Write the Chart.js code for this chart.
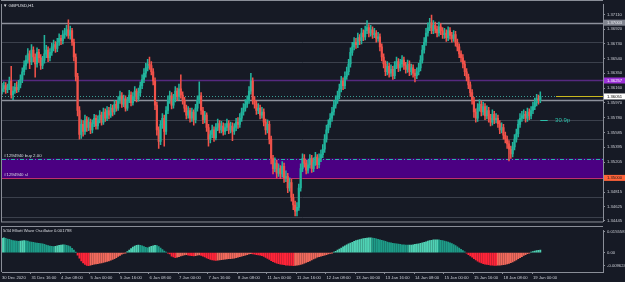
<!DOCTYPE html>
<html><head><meta charset="utf-8">
<script src="https://cdn.jsdelivr.net/npm/chart.js@4.4.1/dist/chart.umd.min.js"></script>
<style>
html,body{margin:0;padding:0;background:#161a25;width:625px;height:282px;overflow:hidden}
canvas{position:absolute;left:0}
#main{top:0}
#osc{top:226px}
</style></head><body>
<canvas id="main" width="625" height="226"></canvas>
<canvas id="osc" width="625" height="56"></canvas>
<script>
// ---------- DATA ----------
const SYMBOL_TITLE = '\u25BC GBPUSD,H1';
const OSC_TITLE = '5/34 Elliott Wave Oscillator 0.001798';
const TIME_TICKS = ['30 Dec 2020','31 Dec 16:00','4 Jan 08:00','5 Jan 00:00','5 Jan 16:00','6 Jan 08:00','7 Jan 00:00','7 Jan 16:00','8 Jan 08:00','11 Jan 00:00','11 Jan 16:00','12 Jan 08:00','13 Jan 00:00','13 Jan 16:00','14 Jan 08:00','15 Jan 00:00','15 Jan 16:00','18 Jan 08:00','19 Jan 00:00'];
const TICK_EVERY = 16;      // bars between time labels
const SLOTS = 327;          // bar slots across the chart (incl. empty right shift)
const PRICE_TICKS = [1.37110,1.36920,1.36730,1.36540,1.36350,1.36160,1.35970,1.35780,1.35585,1.35395,1.35205,1.34815,1.34625,1.34445];
const OSC_TICKS = [0.015558,0,-0.009624];

const OPEN = [
1.3612,1.3615,1.3619,1.3614,1.3617,1.3625,1.3607,1.3612,1.3617,1.3614,
1.3620,1.3627,1.3637,1.3645,1.3652,1.3660,1.3650,1.3665,1.3656,1.3647,
1.3662,1.3655,1.3645,1.3652,1.3660,1.3665,1.3655,1.3662,1.3669,1.3672,
1.3667,1.3675,1.3680,1.3677,1.3685,1.3687,1.3691,1.3684,1.3690,1.3675,
1.3656,1.3631,1.3587,1.3556,1.3569,1.3560,1.3575,1.3565,1.3572,1.3562,
1.3570,1.3577,1.3567,1.3575,1.3581,1.3572,1.3585,1.3577,1.3587,1.3581,
1.3590,1.3585,1.3595,1.3590,1.3600,1.3606,1.3595,1.3602,1.3590,1.3600,
1.3607,1.3597,1.3605,1.3612,1.3602,1.3610,1.3619,1.3627,1.3635,1.3642,
1.3647,1.3645,1.3637,1.3625,1.3594,1.3562,1.3547,1.3569,1.3577,1.3560,
1.3587,1.3600,1.3606,1.3594,1.3602,1.3612,1.3605,1.3615,1.3607,1.3600,
1.3590,1.3581,1.3587,1.3577,1.3585,1.3575,1.3590,1.3600,1.3606,1.3587,
1.3575,1.3581,1.3565,1.3550,1.3556,1.3562,1.3552,1.3565,1.3570,1.3562,
1.3567,1.3560,1.3565,1.3570,1.3562,1.3567,1.3560,1.3565,1.3572,1.3569,
1.3577,1.3585,1.3590,1.3595,1.3600,1.3612,1.3625,1.3600,1.3595,1.3587,
1.3590,1.3581,1.3585,1.3572,1.3562,1.3569,1.3550,1.3525,1.3512,1.3519,
1.3506,1.3512,1.3505,1.3515,1.3500,1.3502,1.3487,1.3494,1.3475,1.3465,
1.3457,1.3462,1.3487,1.3512,1.3525,1.3519,1.3510,1.3517,1.3525,1.3512,
1.3520,1.3527,1.3517,1.3525,1.3530,1.3537,1.3550,1.3562,1.3569,1.3577,
1.3585,1.3594,1.3600,1.3606,1.3615,1.3625,1.3619,1.3631,1.3637,1.3647,
1.3662,1.3669,1.3675,1.3672,1.3681,1.3677,1.3687,1.3682,1.3690,1.3694,
1.3687,1.3691,1.3685,1.3687,1.3680,1.3682,1.3669,1.3656,1.3647,1.3637,
1.3644,1.3635,1.3640,1.3632,1.3645,1.3650,1.3642,1.3647,1.3652,1.3645,
1.3640,1.3647,1.3637,1.3642,1.3635,1.3632,1.3637,1.3642,1.3652,1.3665,
1.3675,1.3687,1.3694,1.3700,1.3690,1.3697,1.3692,1.3687,1.3695,1.3690,
1.3685,1.3687,1.3681,1.3690,1.3684,1.3680,1.3685,1.3675,1.3669,1.3660,
1.3655,1.3647,1.3637,1.3630,1.3620,1.3610,1.3600,1.3585,1.3577,1.3590,
1.3595,1.3585,1.3592,1.3580,1.3587,1.3577,1.3572,1.3582,1.3575,1.3577,
1.3570,1.3562,1.3565,1.3555,1.3550,1.3544,1.3537,1.3531,1.3540,1.3550,
1.3557,1.3569,1.3577,1.3580,1.3582,1.3577,1.3585,1.3580,1.3587,1.3592,
1.3597,1.3602,1.3600];
const HIGH = [
1.3622,1.3624,1.3623,1.3621,1.3630,1.3644,1.3618,1.3622,1.3624,1.3626,
1.3633,1.3642,1.3651,1.3658,1.3667,1.3664,1.3672,1.3669,1.3660,1.3668,
1.3666,1.3659,1.3657,1.3684,1.3671,1.3669,1.3667,1.3674,1.3678,1.3676,
1.3680,1.3686,1.3684,1.3690,1.3693,1.3697,1.3704,1.3696,1.3693,1.3679,
1.3660,1.3635,1.3592,1.3575,1.3574,1.3581,1.3579,1.3578,1.3576,1.3575,
1.3582,1.3581,1.3580,1.3587,1.3585,1.3590,1.3589,1.3592,1.3591,1.3595,
1.3594,1.3600,1.3599,1.3605,1.3612,1.3610,1.3607,1.3606,1.3604,1.3613,
1.3611,1.3610,1.3618,1.3615,1.3616,1.3624,1.3633,1.3641,1.3648,1.3653,
1.3656,1.3650,1.3641,1.3629,1.3598,1.3566,1.3574,1.3583,1.3581,1.3592,
1.3606,1.3612,1.3610,1.3608,1.3618,1.3616,1.3621,1.3633,1.3611,1.3604,
1.3594,1.3592,1.3590,1.3590,1.3588,1.3595,1.3606,1.3624,1.3610,1.3591,
1.3586,1.3584,1.3569,1.3561,1.3568,1.3566,1.3570,1.3576,1.3574,1.3573,
1.3571,1.3570,1.3576,1.3574,1.3572,1.3571,1.3570,1.3577,1.3578,1.3583,
1.3590,1.3596,1.3601,1.3606,1.3618,1.3635,1.3629,1.3605,1.3599,1.3596,
1.3594,1.3591,1.3589,1.3576,1.3575,1.3573,1.3554,1.3529,1.3526,1.3523,
1.3518,1.3516,1.3521,1.3519,1.3509,1.3506,1.3500,1.3498,1.3479,1.3470,
1.3468,1.3492,1.3518,1.3531,1.3530,1.3523,1.3523,1.3530,1.3529,1.3526,
1.3533,1.3530,1.3531,1.3536,1.3543,1.3556,1.3568,1.3575,1.3583,1.3591,
1.3600,1.3606,1.3612,1.3621,1.3631,1.3629,1.3637,1.3643,1.3653,1.3668,
1.3675,1.3681,1.3680,1.3687,1.3685,1.3693,1.3691,1.3696,1.3703,1.3698,
1.3697,1.3695,1.3693,1.3690,1.3688,1.3686,1.3673,1.3660,1.3651,1.3650,
1.3648,1.3646,1.3644,1.3650,1.3656,1.3654,1.3653,1.3658,1.3656,1.3649,
1.3652,1.3651,1.3647,1.3646,1.3640,1.3642,1.3648,1.3658,1.3671,1.3681,
1.3693,1.3700,1.3706,1.3710,1.3703,1.3701,1.3696,1.3701,1.3699,1.3694,
1.3693,1.3691,1.3695,1.3694,1.3688,1.3690,1.3689,1.3679,1.3673,1.3664,
1.3659,1.3651,1.3641,1.3634,1.3624,1.3614,1.3604,1.3589,1.3596,1.3601,
1.3599,1.3598,1.3596,1.3593,1.3591,1.3582,1.3588,1.3586,1.3583,1.3581,
1.3574,1.3571,1.3569,1.3559,1.3554,1.3548,1.3541,1.3546,1.3556,1.3563,
1.3575,1.3583,1.3586,1.3588,1.3586,1.3590,1.3589,1.3592,1.3598,1.3603,
1.3608,1.3607,1.3611];
const LOW = [
1.3608,1.3611,1.3609,1.3610,1.3614,1.3603,1.3601,1.3609,1.3610,1.3611,
1.3616,1.3623,1.3633,1.3640,1.3648,1.3641,1.3646,1.3650,1.3630,1.3643,
1.3649,1.3640,1.3641,1.3648,1.3655,1.3650,1.3651,1.3658,1.3664,1.3662,
1.3663,1.3671,1.3672,1.3673,1.3680,1.3683,1.3680,1.3679,1.3671,1.3651,
1.3625,1.3580,1.3550,1.3551,1.3554,1.3556,1.3560,1.3561,1.3557,1.3558,
1.3566,1.3563,1.3563,1.3571,1.3568,1.3569,1.3573,1.3574,1.3576,1.3578,
1.3580,1.3582,1.3586,1.3587,1.3596,1.3591,1.3592,1.3586,1.3587,1.3597,
1.3593,1.3594,1.3601,1.3598,1.3599,1.3606,1.3615,1.3623,1.3630,1.3638,
1.3640,1.3633,1.3620,1.3588,1.3555,1.3538,1.3543,1.3564,1.3541,1.3556,
1.3583,1.3596,1.3589,1.3590,1.3598,1.3600,1.3601,1.3603,1.3595,1.3585,
1.3576,1.3577,1.3572,1.3573,1.3568,1.3571,1.3586,1.3596,1.3582,1.3570,
1.3571,1.3560,1.3541,1.3545,1.3552,1.3547,1.3549,1.3561,1.3558,1.3558,
1.3555,1.3556,1.3561,1.3557,1.3558,1.3548,1.3556,1.3561,1.3564,1.3565,
1.3573,1.3581,1.3586,1.3591,1.3596,1.3608,1.3595,1.3590,1.3582,1.3583,
1.3576,1.3577,1.3567,1.3556,1.3558,1.3544,1.3518,1.3505,1.3508,1.3500,
1.3502,1.3499,1.3501,1.3494,1.3495,1.3481,1.3483,1.3470,1.3459,1.3451,
1.3451,1.3458,1.3483,1.3508,1.3514,1.3505,1.3506,1.3513,1.3507,1.3508,
1.3516,1.3512,1.3513,1.3521,1.3526,1.3533,1.3546,1.3558,1.3565,1.3573,
1.3581,1.3590,1.3596,1.3602,1.3611,1.3614,1.3615,1.3627,1.3633,1.3643,
1.3658,1.3665,1.3667,1.3668,1.3672,1.3673,1.3677,1.3678,1.3686,1.3682,
1.3683,1.3680,1.3681,1.3675,1.3676,1.3664,1.3651,1.3642,1.3632,1.3633,
1.3630,1.3631,1.3627,1.3628,1.3641,1.3637,1.3638,1.3643,1.3640,1.3635,
1.3636,1.3632,1.3633,1.3630,1.3624,1.3628,1.3633,1.3638,1.3648,1.3661,
1.3671,1.3683,1.3690,1.3686,1.3686,1.3687,1.3682,1.3683,1.3685,1.3680,
1.3680,1.3676,1.3677,1.3679,1.3675,1.3676,1.3670,1.3664,1.3655,1.3650,
1.3642,1.3632,1.3625,1.3615,1.3605,1.3595,1.3578,1.3572,1.3573,1.3586,
1.3580,1.3581,1.3575,1.3576,1.3572,1.3567,1.3568,1.3570,1.3571,1.3565,
1.3557,1.3558,1.3550,1.3545,1.3538,1.3522,1.3525,1.3527,1.3536,1.3546,
1.3553,1.3565,1.3573,1.3576,1.3572,1.3573,1.3575,1.3576,1.3583,1.3588,
1.3593,1.3595,1.3597];
const CLOSE = [
1.3615,1.3619,1.3614,1.3617,1.3625,1.3607,1.3612,1.3617,1.3614,1.3620,
1.3627,1.3637,1.3645,1.3652,1.3660,1.3650,1.3665,1.3656,1.3647,1.3662,
1.3655,1.3645,1.3652,1.3660,1.3665,1.3655,1.3662,1.3669,1.3672,1.3667,
1.3675,1.3680,1.3677,1.3685,1.3687,1.3691,1.3684,1.3690,1.3675,1.3656,
1.3631,1.3587,1.3556,1.3569,1.3560,1.3575,1.3565,1.3572,1.3562,1.3570,
1.3577,1.3567,1.3575,1.3581,1.3572,1.3585,1.3577,1.3587,1.3581,1.3590,
1.3585,1.3595,1.3590,1.3600,1.3606,1.3595,1.3602,1.3590,1.3600,1.3607,
1.3597,1.3605,1.3612,1.3602,1.3610,1.3619,1.3627,1.3635,1.3642,1.3647,
1.3645,1.3637,1.3625,1.3594,1.3562,1.3547,1.3569,1.3577,1.3560,1.3587,
1.3600,1.3606,1.3594,1.3602,1.3612,1.3605,1.3615,1.3607,1.3600,1.3590,
1.3581,1.3587,1.3577,1.3585,1.3575,1.3590,1.3600,1.3606,1.3587,1.3575,
1.3581,1.3565,1.3550,1.3556,1.3562,1.3552,1.3565,1.3570,1.3562,1.3567,
1.3560,1.3565,1.3570,1.3562,1.3567,1.3560,1.3565,1.3572,1.3569,1.3577,
1.3585,1.3590,1.3595,1.3600,1.3612,1.3625,1.3600,1.3595,1.3587,1.3590,
1.3581,1.3585,1.3572,1.3562,1.3569,1.3550,1.3525,1.3512,1.3519,1.3506,
1.3512,1.3505,1.3515,1.3500,1.3502,1.3487,1.3494,1.3475,1.3465,1.3457,
1.3462,1.3487,1.3512,1.3525,1.3519,1.3510,1.3517,1.3525,1.3512,1.3520,
1.3527,1.3517,1.3525,1.3530,1.3537,1.3550,1.3562,1.3569,1.3577,1.3585,
1.3594,1.3600,1.3606,1.3615,1.3625,1.3619,1.3631,1.3637,1.3647,1.3662,
1.3669,1.3675,1.3672,1.3681,1.3677,1.3687,1.3682,1.3690,1.3694,1.3687,
1.3691,1.3685,1.3687,1.3680,1.3682,1.3669,1.3656,1.3647,1.3637,1.3644,
1.3635,1.3640,1.3632,1.3645,1.3650,1.3642,1.3647,1.3652,1.3645,1.3640,
1.3647,1.3637,1.3642,1.3635,1.3632,1.3637,1.3642,1.3652,1.3665,1.3675,
1.3687,1.3694,1.3700,1.3690,1.3697,1.3692,1.3687,1.3695,1.3690,1.3685,
1.3687,1.3681,1.3690,1.3684,1.3680,1.3685,1.3675,1.3669,1.3660,1.3655,
1.3647,1.3637,1.3630,1.3620,1.3610,1.3600,1.3585,1.3577,1.3590,1.3595,
1.3585,1.3592,1.3580,1.3587,1.3577,1.3572,1.3582,1.3575,1.3577,1.3570,
1.3562,1.3565,1.3555,1.3550,1.3544,1.3537,1.3531,1.3540,1.3550,1.3557,
1.3569,1.3577,1.3580,1.3582,1.3577,1.3585,1.3580,1.3587,1.3592,1.3597,
1.3602,1.3600,1.3605];
const EWO = [
0.0105,0.0108,0.0104,0.0100,0.0097,
0.0092,0.0088,0.0086,0.0085,0.0083,0.0085,0.0087,0.0088,0.0086,0.0084,0.0080,
0.0078,0.0075,0.0072,0.0070,0.0068,0.0066,0.0064,0.0060,0.0056,0.0052,0.0048,
0.0046,0.0045,0.0047,0.0050,0.0053,
0.0056,0.0058,0.0057,0.0054,0.0050,0.0044,
0.0032,0.0018,0.0002,
-0.0018,-0.0040,-0.0060,-0.0075,-0.0086,-0.0093,-0.0095,-0.0092,
-0.0088,-0.0085,-0.0082,-0.0080,-0.0078,-0.0075,-0.0072,-0.0068,-0.0064,-0.0060,-0.0055,-0.0050,-0.0044,-0.0036,-0.0028,-0.0020,
-0.0012,-0.0006,-0.0001,
0.0008,0.0018,0.0030,0.0040,0.0048,0.0053,0.0055,0.0054,0.0050,0.0045,
0.0038,0.0036,0.0040,
0.0046,0.0050,0.0053,0.0051,0.0044,0.0034,0.0022,
0.0012,0.0004,-0.0004,-0.0010,
-0.0025,-0.0032,-0.0036,-0.0034,-0.0030,
-0.0024,-0.0020,-0.0016,-0.0015,-0.0018,-0.0020,-0.0022,-0.0024,-0.0022,-0.0018,-0.0016,
-0.0020,-0.0026,-0.0032,-0.0038,-0.0044,-0.0050,-0.0054,-0.0056,-0.0057,-0.0056,-0.0054,-0.0052,-0.0050,-0.0048,-0.0046,-0.0045,-0.0044,-0.0042,-0.0040,-0.0037,-0.0034,-0.0030,
-0.0026,-0.0022,-0.0018,-0.0014,-0.0010,-0.0008,-0.0010,-0.0012,-0.0014,-0.0016,-0.0018,-0.0022,-0.0028,
-0.0035,-0.0042,-0.0050,-0.0058,-0.0066,-0.0072,-0.0077,-0.0081,-0.0084,-0.0087,-0.0089,-0.0091,-0.0092,-0.0093,-0.0094,-0.0095,-0.0094,-0.0092,-0.0090,-0.0087,-0.0083,-0.0078,-0.0072,-0.0066,-0.0060,
-0.0053,-0.0046,-0.0040,-0.0034,-0.0030,
-0.0026,-0.0022,-0.0018,-0.0014,-0.0010,-0.0006,-0.0002,0.0004,
0.0010,0.0018,0.0026,0.0034,0.0042,0.0050,0.0058,0.0064,0.0070,0.0076,0.0082,
0.0088,0.0092,0.0096,0.0100,0.0103,0.0105,0.0107,0.0108,0.0108,0.0107,0.0105,0.0102,0.0098,0.0094,0.0090,0.0086,0.0082,0.0078,0.0074,0.0071,0.0068,0.0066,
0.0064,0.0062,0.0060,0.0058,0.0057,0.0056,0.0055,0.0055,0.0056,0.0058,0.0060,0.0062,0.0065,
0.0068,0.0072,0.0076,0.0080,0.0084,0.0088,0.0091,0.0093,0.0094,0.0094,0.0093,0.0091,0.0088,0.0085,0.0081,0.0077,0.0072,0.0066,0.0059,0.0051,0.0042,0.0033,
0.0024,0.0015,0.0006,-0.0004,-0.0014,-0.0024,
-0.0034,-0.0044,-0.0054,-0.0062,-0.0069,-0.0075,-0.0080,-0.0084,-0.0087,-0.0089,-0.0091,-0.0092,-0.0093,-0.0093,-0.0092,-0.0091,-0.0090,-0.0088,-0.0086,-0.0083,-0.0079,-0.0074,-0.0068,-0.0061,-0.0053,-0.0045,-0.0037,-0.0029,-0.0021,-0.0014,-0.0008,-0.0003,
0.0003,0.0008,0.0012,0.0015,0.0017,0.0018];

// horizontal levels and trade objects
const LEVELS = [1.3700,1.3675,1.3650,1.3600,1.3575,1.3550,1.3475,1.3450];
const BRIGHT_LEVELS = [1.3700,1.3600];
const TP_LEVEL = 1.36257;
const BID = 1.36051;
const ORDER_OPEN = 1.3525;
const ORDER_SL = 1.3500;
const ORDER_TEXT = '#1294940 buy 2.00';
const SL_TEXT = '#1294940 sl';
const PIP_TEXT = '30.9p';
const PIP_LEVEL = 1.3575;
const PIP_LINE_FROM = 292, PIP_LINE_TO = 296, PIP_TEXT_AT = 300;
const ASK_LINE_FROM = 300.5;
const BOXES = [
  {price:1.37003, text:'1.37003', bg:'#80848f', fg:'#eceff4'},
  {price:TP_LEVEL, text:'1.36257', bg:'#9c32d8', fg:'#ffffff'},
  {price:BID, text:'1.36051', bg:'#ffffff', fg:'#000000'},
  {price:ORDER_SL, text:'1.35000', bg:'#ff6339', fg:'#1a1a1a'}
];

// ---------- STYLE ----------
const FONT = 'Liberation Sans, DejaVu Sans, sans-serif';
const TXT = '#c9ccd4';
const AXIS = '#8a8e98';
const BULL = '#22b39c', BEAR = '#f0524a';
const Y_MIN = 1.344375, Y_MAX = 1.372375;
const OSC_MIN = -0.01418, OSC_MAX = 0.0162;

const labels = Array.from({length:SLOTS}, (_, i) => i);
const bodies = labels.map(i => i < CLOSE.length ? [OPEN[i], CLOSE[i]] : null);
const wicks = labels.map(i => i < CLOSE.length ? [LOW[i], HIGH[i]] : null);
const oscVals = labels.map(i => i < EWO.length ? EWO[i] : null);
const candleColor = c => (CLOSE[c.dataIndex] >= OPEN[c.dataIndex] ? BULL : BEAR);
const oscColor = c => {
  const i = c.dataIndex, v = EWO[i], p = i > 0 ? EWO[i-1] : v;
  if (v >= 0) return v >= p ? '#4fd2b4' : '#1e9c88';
  return v <= p ? '#ff2438' : '#f26a5c';
};
const isTimeTick = i => i % TICK_EVERY === 0 && i / TICK_EVERY < TIME_TICKS.length;

function hline(ctx, a, py, color, w, dash) {
  ctx.beginPath();
  ctx.setLineDash(dash || []);
  ctx.strokeStyle = color; ctx.lineWidth = w;
  ctx.moveTo(a.left, py); ctx.lineTo(a.right, py); ctx.stroke();
  ctx.setLineDash([]);
}

const mainDecor = {
  id:'mainDecor',
  beforeDatasetsDraw(chart){
    const {ctx, chartArea:a, scales:{y}} = chart;
    ctx.save();
    const yt = y.getPixelForValue(ORDER_OPEN), yb = y.getPixelForValue(ORDER_SL);
    ctx.fillStyle = '#4b0082';
    ctx.fillRect(a.left, yt, a.right - a.left, yb - yt);
    for (const p of LEVELS) {
      const br = BRIGHT_LEVELS.includes(p);
      hline(ctx, a, Math.round(y.getPixelForValue(p)) + 0.5, br ? '#8d919c' : '#3b404c', br ? 1.4 : 1);
    }
    hline(ctx, a, Math.round(y.getPixelForValue(TP_LEVEL)) + 0.5, '#56297f', 1.5);
    hline(ctx, a, Math.round(y.getPixelForValue(BID)) + 0.5, '#3c9d93', 1, [1,2]);
    hline(ctx, a, Math.round(yt) + 0.5, '#27b5a6', 1, [4,2,1,2]);
    hline(ctx, a, Math.round(yb) + 0.5, '#c0306e', 1);
    ctx.restore();
  },
  afterDatasetsDraw(chart){
    const {ctx, chartArea:a, scales:{x,y}} = chart;
    ctx.save();
    ctx.font = '4.4px ' + FONT;
    ctx.fillStyle = '#d8dae0';
    ctx.textBaseline = 'bottom'; ctx.textAlign = 'left';
    ctx.fillText(ORDER_TEXT, a.left + 2, y.getPixelForValue(ORDER_OPEN) - 0.5);
    ctx.fillText(SL_TEXT, a.left + 2, y.getPixelForValue(ORDER_SL) - 0.5);
    // ask line segment
    const by = Math.round(y.getPixelForValue(BID)) + 0.5;
    ctx.strokeStyle = '#c8b820'; ctx.lineWidth = 1;
    ctx.beginPath(); ctx.moveTo(x.getPixelForValue(ASK_LINE_FROM), by); ctx.lineTo(a.right, by); ctx.stroke();
    // pip distance marker
    const py = Math.round(y.getPixelForValue(PIP_LEVEL)) + 0.5;
    ctx.strokeStyle = '#2cc0aa'; ctx.lineWidth = 1;
    ctx.beginPath(); ctx.moveTo(x.getPixelForValue(PIP_LINE_FROM), py); ctx.lineTo(x.getPixelForValue(PIP_LINE_TO), py); ctx.stroke();
    ctx.font = '6px ' + FONT; ctx.fillStyle = '#2cc0aa'; ctx.textBaseline = 'middle';
    ctx.fillText(PIP_TEXT, x.getPixelForValue(PIP_TEXT_AT), py);
    // frame
    ctx.strokeStyle = AXIS; ctx.lineWidth = 1;
    ctx.beginPath();
    ctx.moveTo(1.5, a.top - 0.5); ctx.lineTo(1.5, a.bottom + 0.5);
    ctx.moveTo(1, a.bottom + 0.5); ctx.lineTo(a.right, a.bottom + 0.5);
    ctx.moveTo(1, 0.5); ctx.lineTo(a.right, 0.5);
    ctx.stroke();
    ctx.restore();
  },
  afterDraw(chart){
    const {ctx, chartArea:a, scales:{y}} = chart;
    ctx.save();
    ctx.font = '4.2px ' + FONT; ctx.textBaseline = 'middle'; ctx.textAlign = 'left';
    for (const b of BOXES) {
      const py = y.getPixelForValue(b.price);
      ctx.fillStyle = b.bg; ctx.fillRect(a.right + 1, py - 3, 21, 6);
      ctx.fillStyle = b.fg; ctx.fillText(b.text, a.right + 4, py);
    }
    ctx.font = '4.4px ' + FONT; ctx.fillStyle = '#dfe1e6';
    ctx.fillText(SYMBOL_TITLE, 3, 5.5);
    ctx.restore();
  }
};

const oscDecor = {
  id:'oscDecor',
  afterDraw(chart){
    const {ctx, chartArea:a} = chart;
    ctx.save();
    ctx.strokeStyle = AXIS; ctx.lineWidth = 1;
    ctx.beginPath();
    ctx.moveTo(1, 0.5); ctx.lineTo(a.right, 0.5);
    ctx.moveTo(1.5, 0); ctx.lineTo(1.5, a.bottom);
    ctx.stroke();
    ctx.font = '4.2px ' + FONT; ctx.fillStyle = '#d8dae0';
    ctx.textBaseline = 'middle'; ctx.textAlign = 'left';
    ctx.fillText(OSC_TITLE, 3, 5);
    ctx.restore();
  }
};

const tickFont = {family:FONT, size:4.2};

new Chart(document.getElementById('main'), {
  type:'bar',
  data:{labels, datasets:[
    {data:bodies, backgroundColor:candleColor, barThickness:1.5, minBarLength:1, grouped:false, borderWidth:0, borderSkipped:false},
    {data:wicks, backgroundColor:candleColor, barThickness:0.9, grouped:false, borderWidth:0, borderSkipped:false}
  ]},
  options:{
    responsive:false, animation:false, events:[],
    layout:{padding:{left:2, top:1, right:0, bottom:1}},
    plugins:{legend:{display:false}, tooltip:{enabled:false}, title:{display:false}},
    scales:{
      x:{type:'category', offset:false, display:false},
      y:{position:'right', min:Y_MIN, max:Y_MAX,
         afterFit(s){ s.width = 22; },
         afterBuildTicks(s){ s.ticks = PRICE_TICKS.map(v => ({value:v})); },
         ticks:{color:TXT, font:tickFont, padding:2, callback:v => Number(v).toFixed(5)},
         grid:{drawOnChartArea:false, drawTicks:true, tickLength:2, color:AXIS},
         border:{display:true, color:AXIS}}
    }
  },
  plugins:[mainDecor]
});

new Chart(document.getElementById('osc'), {
  type:'bar',
  data:{labels, datasets:[
    {data:oscVals, backgroundColor:oscColor, barThickness:1.2, borderWidth:0, borderSkipped:false}
  ]},
  options:{
    responsive:false, animation:false, events:[],
    layout:{padding:{left:2, top:1, right:0, bottom:0}},
    plugins:{legend:{display:false}, tooltip:{enabled:false}},
    scales:{
      x:{type:'category', offset:false,
         afterFit(s){ s.height = 10; },
         ticks:{autoSkip:false, maxRotation:0, minRotation:0, align:'start', padding:1, color:TXT, font:tickFont,
                callback:(v, i) => isTimeTick(i) ? TIME_TICKS[i / TICK_EVERY] : ''},
         grid:{drawOnChartArea:false, drawTicks:true, tickLength:2, color:c => isTimeTick(c.index) ? AXIS : 'rgba(0,0,0,0)'},
         border:{display:true, color:AXIS}},
      y:{position:'right', min:OSC_MIN, max:OSC_MAX,
         afterFit(s){ s.width = 22; },
         afterBuildTicks(s){ s.ticks = OSC_TICKS.map(v => ({value:v})); },
         ticks:{color:TXT, font:tickFont, padding:2, callback:v => (v === 0 ? '0.00' : Number(v).toFixed(6))},
         grid:{drawOnChartArea:false, drawTicks:true, tickLength:2, color:AXIS},
         border:{display:true, color:AXIS}}
    }
  },
  plugins:[oscDecor]
});
</script>
</body></html>
